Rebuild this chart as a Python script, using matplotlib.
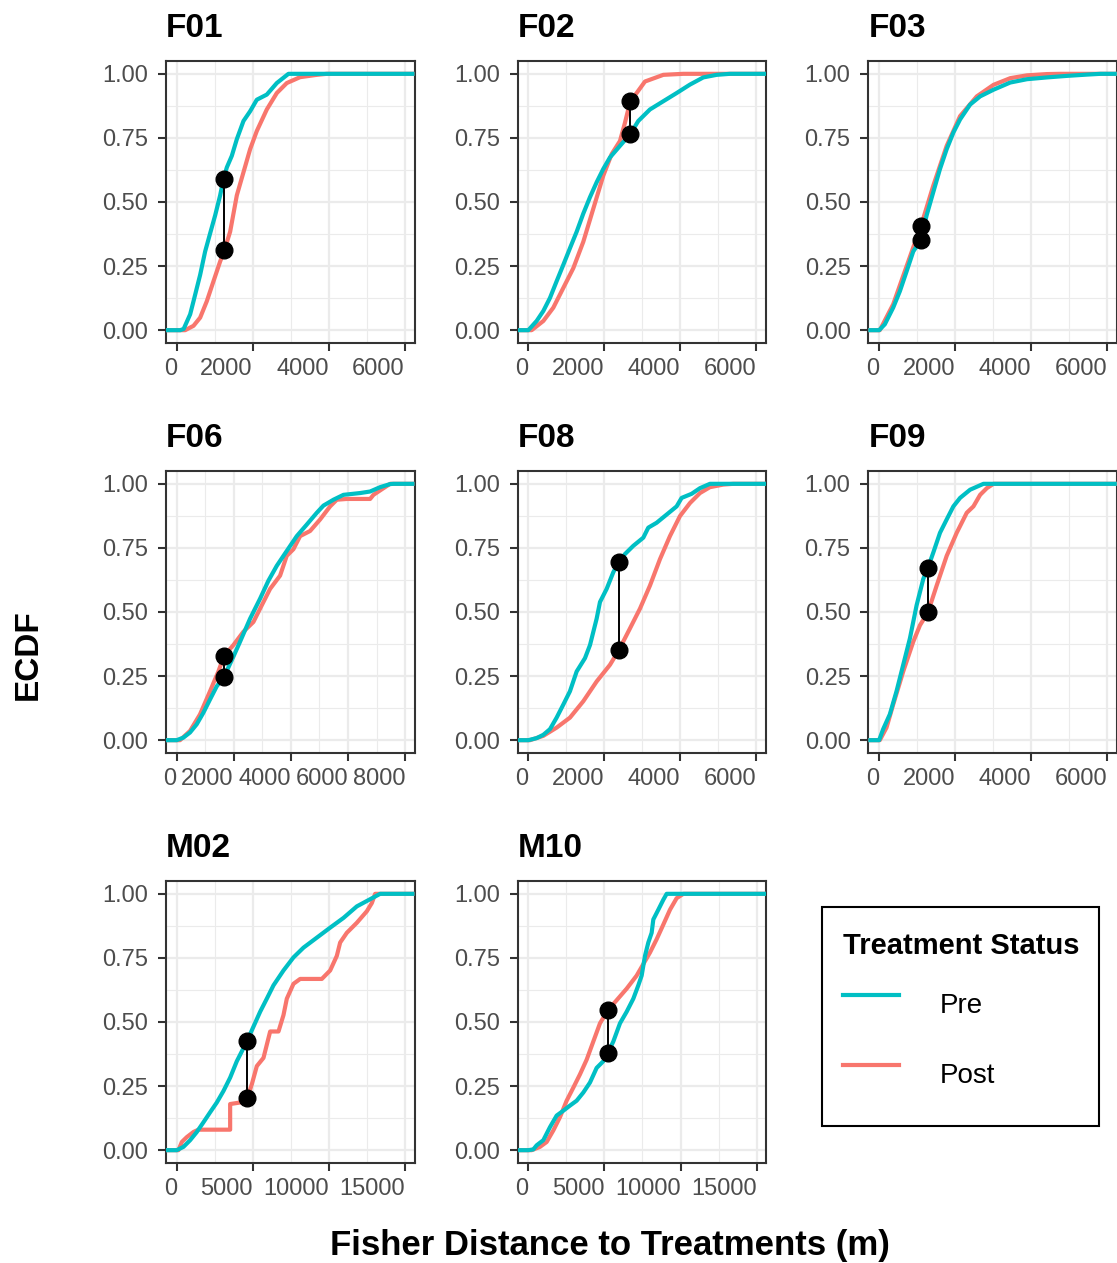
import matplotlib
matplotlib.use("Agg")
import matplotlib.pyplot as plt
from matplotlib.ticker import MultipleLocator, FixedLocator
from matplotlib.lines import Line2D
from matplotlib.patches import Rectangle

plt.rcParams['font.family'] = ['Liberation Sans', 'DejaVu Sans']

PRE_COL = '#00BFC4'
POST_COL = '#F8766D'

panels = ['F01', 'F02', 'F03', 'F06', 'F08', 'F09', 'M02', 'M10']

# ECDF curves: (distance, ecdf)
f01_pre = [(90, 0), (180, 0.005), (351, 0.062), (439, 0.113), (614, 0.216), (745, 0.307), (877, 0.378),
           (1009, 0.448), (1140, 0.526), (1228, 0.59), (1316, 0.635), (1447, 0.68), (1579, 0.745),
           (1754, 0.816), (1929, 0.854), (2105, 0.899), (2368, 0.919), (2631, 0.964), (2938, 1.0)]
f01_post = [(219, 0), (439, 0.017), (614, 0.049), (789, 0.113), (965, 0.191), (1140, 0.268), (1245, 0.309),
            (1403, 0.384), (1579, 0.526), (1754, 0.616), (1929, 0.706), (2105, 0.777), (2368, 0.861),
            (2631, 0.925), (2894, 0.964), (3245, 0.987), (3684, 0.996), (3947, 1.0)]

f02_pre = [(0, 0), (219, 0.036), (395, 0.075), (570, 0.126), (745, 0.191), (921, 0.255), (1096, 0.32),
           (1272, 0.384), (1447, 0.455), (1623, 0.519), (1798, 0.577), (1973, 0.629), (2149, 0.674),
           (2412, 0.719), (2683, 0.765), (2894, 0.816), (3201, 0.861), (3552, 0.893), (3903, 0.925),
           (4254, 0.958), (4605, 0.986), (4955, 0.996), (5306, 1.0)]
f02_post = [(88, 0), (395, 0.036), (658, 0.088), (921, 0.165), (1184, 0.242), (1447, 0.345), (1710, 0.474),
            (1973, 0.603), (2193, 0.687), (2412, 0.738), (2543, 0.809), (2683, 0.893), (2850, 0.925),
            (3070, 0.97), (3552, 0.996), (4078, 1.0)]

f03_pre = [(0, 0), (150, 0.023), (370, 0.088), (546, 0.152), (722, 0.229), (898, 0.307), (1100, 0.352),
           (1250, 0.448), (1426, 0.539), (1602, 0.629), (1778, 0.706), (1954, 0.771), (2130, 0.822),
           (2394, 0.88), (2658, 0.912), (3010, 0.938), (3450, 0.966), (3890, 0.979), (4418, 0.986),
           (4946, 0.992), (5474, 0.997), (5826, 1.0)]
f03_post = [(18, 0), (370, 0.101), (722, 0.249), (1074, 0.397), (1100, 0.406), (1426, 0.564), (1778, 0.719),
            (2130, 0.835), (2570, 0.912), (3010, 0.957), (3450, 0.983), (3890, 0.994), (4418, 0.999),
            (4770, 1.0)]

f06_pre = [(0, 0), (234, 0.01), (467, 0.03), (701, 0.062), (934, 0.107), (1168, 0.159), (1402, 0.21),
           (1658, 0.247), (1986, 0.326), (2219, 0.384), (2570, 0.474), (2920, 0.552), (3212, 0.622),
           (3504, 0.68), (3854, 0.738), (4205, 0.796), (4555, 0.841), (4906, 0.887), (5139, 0.915),
           (5490, 0.938), (5840, 0.957), (6424, 0.964), (6774, 0.97), (7125, 0.987), (7475, 0.999),
           (7592, 1.0)]
f06_post = [(117, 0), (467, 0.036), (818, 0.101), (1168, 0.191), (1460, 0.268), (1658, 0.329), (1986, 0.371),
            (2336, 0.423), (2686, 0.461), (2920, 0.513), (3270, 0.59), (3621, 0.642), (3854, 0.719),
            (4088, 0.745), (4322, 0.796), (4672, 0.816), (5023, 0.861), (5373, 0.912), (5607, 0.938),
            (5957, 0.941), (6774, 0.941), (6891, 0.957), (7242, 0.983), (7475, 1.0)]

f08_pre = [(0, 0), (219, 0.008), (395, 0.021), (570, 0.043), (745, 0.088), (921, 0.139), (1096, 0.191),
           (1272, 0.268), (1491, 0.32), (1623, 0.371), (1798, 0.474), (1886, 0.539), (2061, 0.59),
           (2236, 0.655), (2385, 0.696), (2543, 0.726), (2762, 0.758), (3026, 0.79), (3157, 0.829),
           (3376, 0.848), (3640, 0.88), (3903, 0.912), (4034, 0.945), (4297, 0.961), (4517, 0.983),
           (4780, 1.0)]
f08_post = [(44, 0), (395, 0.017), (745, 0.049), (1096, 0.088), (1447, 0.152), (1798, 0.229), (2149, 0.294),
            (2385, 0.352), (2675, 0.436), (2938, 0.513), (3201, 0.603), (3464, 0.706), (3727, 0.796),
            (3990, 0.874), (4254, 0.925), (4517, 0.964), (4780, 0.987), (5130, 0.997), (5394, 1.0)]

f09_pre = [(0, 0), (106, 0.043), (282, 0.101), (458, 0.191), (634, 0.294), (810, 0.397), (986, 0.526),
           (1162, 0.629), (1285, 0.673), (1426, 0.732), (1602, 0.809), (1778, 0.861), (1954, 0.912),
           (2130, 0.945), (2394, 0.977), (2746, 1.0)]
f09_post = [(18, 0), (194, 0.049), (370, 0.139), (634, 0.268), (898, 0.384), (1074, 0.448), (1285, 0.499),
            (1514, 0.603), (1778, 0.719), (2042, 0.809), (2306, 0.887), (2482, 0.912), (2658, 0.957),
            (2834, 0.983), (3010, 1.0)]

m02_pre = [(0, 0), (438, 0.013), (876, 0.039), (1314, 0.071), (1752, 0.109), (2190, 0.148), (2628, 0.186),
           (3066, 0.231), (3504, 0.283), (3942, 0.347), (4380, 0.398), (4621, 0.427), (5037, 0.482),
           (5475, 0.54), (5913, 0.591), (6351, 0.643), (7008, 0.701), (7665, 0.752), (8322, 0.79),
           (9198, 0.829), (10074, 0.868), (10950, 0.906), (11826, 0.951), (12702, 0.979), (13359, 1.0)]
m02_post = [(110, 0), (329, 0.032), (657, 0.051), (1095, 0.071), (1424, 0.08), (3504, 0.08), (3504, 0.18),
            (4161, 0.186), (4621, 0.203), (4928, 0.257), (5256, 0.328), (5694, 0.36), (6132, 0.463),
            (6680, 0.463), (7008, 0.527), (7227, 0.591), (7665, 0.649), (8103, 0.668), (9527, 0.668),
            (10074, 0.701), (10512, 0.758), (10731, 0.81), (11169, 0.848), (11826, 0.887), (12483, 0.932),
            (12812, 0.964), (13030, 1.0)]

m10_pre = [(0, 0), (329, 0.003), (548, 0.019), (986, 0.039), (1424, 0.09), (1862, 0.135), (2300, 0.154),
           (2738, 0.174), (3176, 0.193), (3614, 0.225), (4052, 0.264), (4490, 0.321), (4928, 0.347),
           (5234, 0.38), (5585, 0.424), (6023, 0.495), (6461, 0.54), (6899, 0.591), (7227, 0.643),
           (7446, 0.681), (7665, 0.758), (7884, 0.81), (8103, 0.848), (8213, 0.9), (8541, 0.938),
           (8870, 0.977), (9089, 1.0)]
m10_post = [(219, 0), (767, 0.013), (1205, 0.032), (1643, 0.077), (2081, 0.129), (2519, 0.193), (2957, 0.244),
            (3395, 0.296), (3833, 0.353), (4271, 0.424), (4709, 0.495), (5234, 0.546), (5804, 0.585),
            (6461, 0.63), (7118, 0.681), (7556, 0.726), (7994, 0.771), (8432, 0.823), (8870, 0.88),
            (9308, 0.938), (9746, 0.983), (10184, 1.0)]

pre_curves = [f01_pre, f02_pre, f03_pre, f06_pre, f08_pre, f09_pre, m02_pre, m10_pre]
post_curves = [f01_post, f02_post, f03_post, f06_post, f08_post, f09_post, m02_post, m10_post]

# maximum ECDF gap (KS statistic) location
ks_x = [1244, 2683, 1100, 1658, 2385, 1285, 4621, 5234]
ks_pre = [0.588, 0.765, 0.352, 0.247, 0.696, 0.673, 0.427, 0.380]
ks_post = [0.313, 0.893, 0.406, 0.329, 0.352, 0.499, 0.203, 0.546]

x_limits = [(-285, 6255)] * 3 + [(-374, 8328), (-285, 6255), (-285, 6255)] + [(-710, 15615)] * 2
x_major = [2000] * 3 + [2000, 2000, 2000] + [5000] * 2

W, H = 1117, 1263
fig = plt.figure(figsize=(W / 100, H / 100), dpi=100)

col_left = [166, 517.5, 868.3]
row_top = [61, 471, 881]
pw, ph = 248.5, 282

for i, name in enumerate(panels):
    r, c = divmod(i, 3)
    ax = fig.add_axes([col_left[c] / W, 1 - (row_top[r] + ph) / H, pw / W, ph / H])
    lo, hi = x_limits[i]
    ax.set_xlim(lo, hi)
    ax.set_ylim(-0.05, 1.05)

    for curve, col in [(post_curves[i], POST_COL), (pre_curves[i], PRE_COL)]:
        xs = [lo] + [p[0] for p in curve] + [hi]
        ys = [0] + [p[1] for p in curve] + [1]
        ax.plot(xs, ys, color=col, lw=3.0, solid_capstyle='butt', zorder=3)

    ax.plot([ks_x[i], ks_x[i]], [ks_pre[i], ks_post[i]], color='black', lw=1.4, zorder=4)
    ax.plot([ks_x[i], ks_x[i]], [ks_pre[i], ks_post[i]], 'o', color='black', ms=12, zorder=5)

    step = x_major[i]
    ticks = list(range(0, int(hi) + 1, step))
    ax.set_xticks(ticks)
    ax.set_xticklabels([str(t) for t in ticks], ha='right')
    ax.xaxis.set_minor_locator(MultipleLocator(step / 2))
    ax.yaxis.set_major_locator(FixedLocator([0, 0.25, 0.5, 0.75, 1.0]))
    ax.yaxis.set_minor_locator(FixedLocator([0.125, 0.375, 0.625, 0.875]))
    ax.set_yticklabels(['0.00', '0.25', '0.50', '0.75', '1.00'])

    ax.grid(which='major', color='#EBEBEB', lw=1.6, zorder=0)
    ax.grid(which='minor', color='#EBEBEB', lw=0.8, zorder=0)
    ax.set_axisbelow(True)
    for s in ax.spines.values():
        s.set_color('#333333')
        s.set_linewidth(1.5)
    ax.tick_params(which='major', length=5.8, width=1.5, color='#333333', labelsize=17,
                   labelcolor='#4D4D4D')
    ax.tick_params(axis='x', which='major', pad=5)
    ax.tick_params(axis='y', which='major', pad=7)
    ax.tick_params(which='minor', length=0)
    ax.set_title(name, loc='left', fontsize=24, fontweight='bold', pad=17)

fig.text(28 / W, 1 - 655 / H, 'ECDF', rotation=90, fontsize=24, fontweight='bold',
         ha='center', va='center')
fig.text(609.5 / W, 1 - 1245 / H, 'Fisher Distance to Treatments (m)', fontsize=25,
         fontweight='bold', ha='center', va='center')

# legend: contents via fig.legend, box drawn as a separate frame
handles = [Line2D([], [], color=PRE_COL, lw=3.0), Line2D([], [], color=POST_COL, lw=3.0)]
leg = fig.legend(handles, ['Pre', 'Post'], title='Treatment Status', loc='upper left',
                 bbox_to_anchor=(843 / W, 1 - 932 / H), borderaxespad=0, frameon=False,
                 fontsize=20, title_fontproperties={'weight': 'bold', 'size': 21},
                 handlelength=2.0, handleheight=2.48, handletextpad=1.5, labelspacing=0.66,
                 borderpad=0, alignment='left')
fig.add_artist(Rectangle((822 / W, 1 - 1126 / H), 277 / W, 219 / H, transform=fig.transFigure,
                         fill=False, edgecolor='black', linewidth=1.5))

fig.savefig('out.png', dpi=100)
